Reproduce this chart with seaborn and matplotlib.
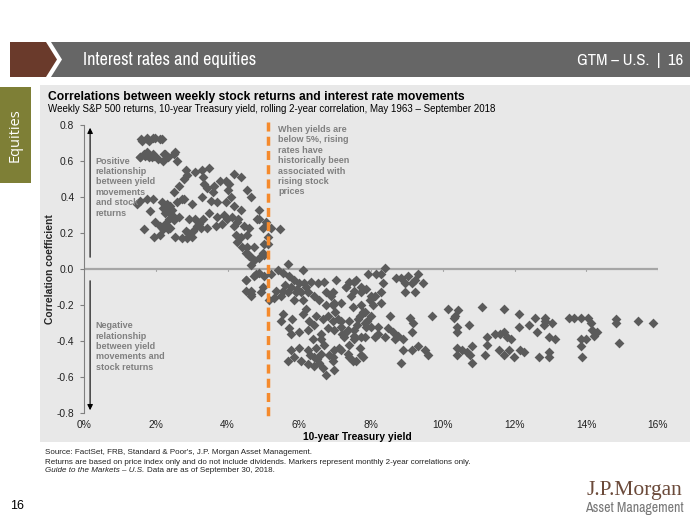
import matplotlib
matplotlib.use("Agg")
import matplotlib.pyplot as plt
from matplotlib.patches import Polygon, Rectangle
from matplotlib import font_manager
import seaborn as sns
import pandas as pd

sns.set_theme(style="white")
plt.rcParams['font.family'] = ['Liberation Sans', 'DejaVu Sans']

# ---- data: (10-year Treasury yield %, rolling 2-year correlation) ----
yield_pct = [
    1.6, 1.75, 1.93, 2.13, 1.62, 1.75, 1.99, 2.17, 1.57, 1.71, 1.9, 1.93, 2.22, 2.2, 2.35, 2.55, 2.6,
    1.57, 1.75, 1.94, 2.27, 2.5, 2.83, 2.87, 3.1, 3.3, 3.48, 2.78, 3.33,
    2.64, 2.5, 2.73, 3.0, 3.34, 3.44, 3.62, 3.8, 3.95, 4.18, 4.37, 4.04, 3.3, 3.53, 3.72, 3.95, 4.1,
    4.18, 4.37, 4.55, 4.65, 4.88,
    1.47, 1.57, 1.75, 1.93, 1.85, 2.17, 2.2, 2.31, 2.45, 2.6, 2.78, 2.64, 2.5, 2.36, 2.92, 3.1, 3.33,
    3.48, 3.15, 3.25, 3.43, 3.67, 3.85, 3.99, 4.13, 4.27, 4.46, 4.6, 4.83,
    1.66, 1.99, 2.13, 2.27, 2.4, 2.2, 1.94, 2.13, 2.55, 2.73, 2.87, 3.0, 2.83, 3.05,
    4.18, 4.23, 4.37, 4.55, 4.27, 4.41, 4.51, 4.6, 4.74, 4.88, 4.98, 5.12, 5.12, 5.2, 5.45, 4.98,
    4.88, 5.07, 5.02, 4.74, 4.55,
    4.6, 4.74, 4.65, 5.01, 4.51, 4.79, 4.88, 5.02, 5.21, 5.4, 5.54, 5.68, 5.72, 5.86, 6.1, 6.0,
    6.14, 6.33, 6.52, 6.7, 4.51, 4.65, 4.98, 4.93, 5.16, 5.3, 5.49, 5.35, 5.54, 5.68, 5.77, 5.91,
    6.05, 6.24, 5.86, 6.1, 6.42, 6.56, 6.75, 6.89, 6.75, 6.94, 7.17, 7.31, 7.4, 7.59, 7.54, 7.73, 7.92,
    5.54, 5.49, 5.72, 5.77, 6.0, 6.1, 6.28, 6.47, 6.66, 6.8, 6.94, 6.24, 6.38, 6.61, 6.8, 6.98,
    7.08, 7.17, 7.36, 7.54, 7.26, 7.54, 7.73, 7.87, 7.68, 7.78,
    5.77, 6.0, 5.68, 5.86, 6.05, 6.24, 6.42, 6.56, 6.66, 6.75, 6.42, 6.84, 6.94, 6.61, 7.17, 7.4,
    7.59, 7.73, 6.24, 6.47,
    8.38, 8.15, 8.29, 8.71, 8.85, 9.04, 9.22, 9.32, 9.46, 8.94, 8.94, 9.22, 9.13, 7.03, 7.31, 7.54,
    7.73, 7.87, 8.34, 8.29, 8.1, 7.45, 6.94, 6.98, 7.5, 7.73, 7.96, 8.05, 8.29, 7.82, 8.01, 8.52,
    9.08, 9.18, 9.13, 9.69, 7.17, 7.4, 7.64, 7.82, 8.01, 8.2, 8.48, 8.62, 8.76, 8.9, 7.26, 7.54,
    7.82, 8.1, 8.38, 8.66, 8.9, 9.13, 9.32, 9.5, 9.6, 8.85, 6.98, 7.12, 7.36, 7.5, 7.78, 6.98, 6.94,
    10.15, 10.35, 10.43, 10.3, 10.4, 10.4, 10.72, 11.09, 11.23, 11.23, 11.46, 11.6, 11.7, 11.79,
    11.91, 11.7, 12.12, 12.12, 12.4, 12.58, 12.63, 12.84, 12.84, 12.82, 13.05, 12.96, 13.12,
    10.4, 10.4, 10.53, 10.67, 10.76, 10.81, 10.81, 11.18, 11.56, 11.7, 11.84, 11.98, 12.16, 12.26,
    12.68, 12.96, 12.96, 13.52, 13.66, 13.84, 14.04, 14.12, 14.17, 14.31, 14.22, 13.98, 13.84,
    13.84, 13.89, 14.82, 14.82, 15.43, 15.85, 14.92,
    4.74, 4.51, 4.65, 4.65, 5.8, 6.2,
    1.68, 1.82, 2.05, 1.8, 2.3, 2.4, 2.25, 2.45, 2.35, 2.9, 3.2, 3.6, 3.7, 3.9, 4.0, 4.3,
    5.6, 5.95, 6.2, 6.4, 6.6, 7.0, 7.2, 7.6, 7.9, 8.2, 8.0, 7.7, 7.4, 6.3, 6.5, 6.7,
]
correlation = [
    0.72, 0.73, 0.73, 0.72, 0.71, 0.72, 0.73, 0.72, 0.62, 0.63, 0.62, 0.64, 0.64, 0.6, 0.62, 0.65, 0.6,
    0.62, 0.65, 0.63, 0.64, 0.64, 0.55, 0.52, 0.54, 0.55, 0.56, 0.5, 0.51,
    0.46, 0.43, 0.39, 0.36, 0.47, 0.45, 0.46, 0.49, 0.49, 0.53, 0.51, 0.47, 0.40, 0.38, 0.37, 0.37, 0.40,
    0.35, 0.33, 0.44, 0.40, 0.33,
    0.36, 0.38, 0.39, 0.39, 0.32, 0.37, 0.34, 0.36, 0.33, 0.37, 0.39, 0.29, 0.27, 0.28, 0.28, 0.28, 0.28,
    0.31, 0.24, 0.23, 0.23, 0.24, 0.25, 0.28, 0.29, 0.26, 0.24, 0.23, 0.28,
    0.22, 0.26, 0.24, 0.25, 0.23, 0.22, 0.18, 0.19, 0.18, 0.17, 0.17, 0.18, 0.21, 0.21,
    0.24, 0.19, 0.18, 0.19, 0.15, 0.12, 0.09, 0.07, 0.05, 0.06, 0.09, 0.14, 0.18, 0.23, 0.22, 0.23,
    0.28, 0.26, 0.14, 0.12, 0.12,
    0.08, 0.05, 0.02, 0.08, -0.06, -0.03, -0.02, -0.04, -0.03, -0.005, -0.02, 0.03, -0.04, -0.06, -0.005, -0.08,
    -0.08, -0.07, -0.08, -0.07, -0.12, -0.14, -0.1, -0.13, -0.17, -0.16, -0.15, -0.12, -0.12, -0.13, -0.1, -0.13,
    -0.13, -0.13, -0.17, -0.17, -0.15, -0.17, -0.13, -0.15, -0.2, -0.2, -0.19, -0.1, -0.07, -0.06, -0.12, -0.13, -0.03,
    -0.25, -0.29, -0.33, -0.36, -0.35, -0.25, -0.29, -0.26, -0.28, -0.26, -0.29, -0.34, -0.39, -0.39, -0.33, -0.34,
    -0.28, -0.32, -0.34, -0.34, -0.38, -0.39, -0.38, -0.32, -0.26, -0.24,
    -0.45, -0.44, -0.51, -0.49, -0.51, -0.53, -0.54, -0.52, -0.55, -0.59, -0.49, -0.48, -0.49, -0.47, -0.45, -0.49,
    -0.51, -0.48, -0.45, -0.44,
    0.005, -0.03, -0.03, -0.05, -0.05, -0.04, -0.06, -0.03, -0.08, -0.08, -0.13, -0.13, -0.08, -0.06, -0.1, -0.07,
    -0.1, -0.11, -0.08, -0.13, -0.15, -0.15, -0.13, -0.19, -0.21, -0.2, -0.17, -0.2, -0.19, -0.24, -0.26, -0.26,
    -0.27, -0.3, -0.35, -0.26, -0.29, -0.29, -0.28, -0.3, -0.32, -0.32, -0.33, -0.35, -0.37, -0.39, -0.36, -0.37,
    -0.38, -0.38, -0.38, -0.39, -0.45, -0.45, -0.43, -0.45, -0.48, -0.52, -0.45, -0.44, -0.47, -0.51, -0.49, -0.56, -0.51,
    -0.22, -0.26, -0.23, -0.27, -0.32, -0.35, -0.31, -0.21, -0.38, -0.42, -0.36, -0.36, -0.35, -0.38,
    -0.39, -0.22, -0.25, -0.32, -0.31, -0.27, -0.35, -0.27, -0.29, -0.31, -0.3, -0.38, -0.39,
    -0.44, -0.48, -0.45, -0.46, -0.48, -0.43, -0.52, -0.48, -0.45, -0.48, -0.45, -0.49, -0.45, -0.46,
    -0.49, -0.49, -0.46, -0.27, -0.27, -0.27, -0.27, -0.3, -0.34, -0.35, -0.37, -0.39, -0.39,
    -0.43, -0.49, -0.28, -0.3, -0.29, -0.3, -0.41,
    -0.04, -0.06, -0.12, -0.15, -0.28, -0.22,
    0.64, 0.62, 0.61, 0.71, 0.33, 0.35, 0.31, 0.30, 0.22, 0.20, 0.25, 0.43, 0.29, 0.30, 0.44, 0.28,
    -0.09, -0.11, -0.10, -0.31, -0.36, -0.24, -0.36, -0.31, -0.29, -0.36, -0.15, -0.44, -0.42, -0.48, -0.50, -0.42,
]

x_ticks = [0, 2, 4, 6, 8, 10, 12, 14, 16]
x_tick_labels = ["0%", "2%", "4%", "6%", "8%", "10%", "12%", "14%", "16%"]
y_ticks = [0.8, 0.6, 0.4, 0.2, 0.0, -0.2, -0.4, -0.6, -0.8]
y_tick_labels = ["0.8", "0.6", "0.4", "0.2", "0.0", "-0.2", "-0.4", "-0.6", "-0.8"]
threshold_yield = 5.13

df = pd.DataFrame({"yield": yield_pct, "corr": correlation})

# pick a narrow font for the header if one is installed
narrow_family, narrow_stretch, narrow_ok = "Liberation Sans", "normal", False
for f in font_manager.fontManager.ttflist:
    nm = f.name
    st = str(f.stretch)
    if ("Narrow" in nm or "Condensed" in nm) and f.weight in (400, "normal", "regular"):
        narrow_family, narrow_stretch, narrow_ok = nm, st, True
        break
if not narrow_ok:
    for f in font_manager.fontManager.ttflist:
        if str(f.stretch) in ("condensed", "semi-condensed") and f.style == "normal":
            narrow_family, narrow_stretch, narrow_ok = f.name, str(f.stretch), True
            break
head_size = 13 if narrow_ok else 11
head_size2 = 12 if narrow_ok else 10.5

W, H = 700, 525
fig = plt.figure(figsize=(W / 100, H / 100), dpi=100)
fig.patch.set_facecolor("white")

bg = fig.add_axes([0, 0, 1, 1], zorder=0)
bg.set_xlim(0, W)
bg.set_ylim(H, 0)
bg.axis("off")

# header
bg.add_patch(Polygon([(10, 42), (46, 42), (57, 59.5), (46, 77), (10, 77)], closed=True,
                     facecolor="#6a3a2b", edgecolor="none"))
bg.add_patch(Polygon([(51, 42), (690, 42), (690, 77), (51, 77), (62, 59.5)], closed=True,
                     facecolor="#666666", edgecolor="none"))
bg.text(83, 60, "Interest rates and equities", color="white", fontsize=head_size,
        family=[narrow_family, "DejaVu Sans"], fontstretch=narrow_stretch, va="center", ha="left")
bg.text(683, 60, "GTM – U.S.  |  16", color="white", fontsize=head_size2,
        family=[narrow_family, "DejaVu Sans"], fontstretch=narrow_stretch, va="center", ha="right")

# side tab
bg.add_patch(Rectangle((0, 87), 31, 96, facecolor="#7e7f36", edgecolor="none"))
bg.text(15, 135, "Equities", color="white", fontsize=10.5, rotation=90,
        family=["Open Sans", "DejaVu Sans"], va="center", ha="center")

# chart panel
bg.add_patch(Rectangle((40, 85), 650, 357, facecolor="#e8e8e8", edgecolor="none"))
bg.text(48, 97, "Correlations between weekly stock returns and interest rate movements",
        fontsize=8.7, fontweight="bold", color="black", va="center", ha="left")
bg.text(48, 109, "Weekly S&P 500 returns, 10-year Treasury yield, rolling 2-year correlation, May 1963 – September 2018",
        fontsize=7.0, color="black", va="center", ha="left")

# footer
fs_foot = 5.8
bg.text(45, 453, "Source: FactSet, FRB, Standard & Poor's, J.P. Morgan Asset Management.",
        fontsize=fs_foot, color="#222222", va="center", ha="left")
bg.text(45, 462, "Returns are based on price index only and do not include dividends. Markers represent monthly 2-year correlations only.",
        fontsize=fs_foot, color="#222222", va="center", ha="left")
guide = bg.text(45, 471, "Guide to the Markets – U.S.", fontsize=fs_foot, color="#222222",
                va="center", ha="left", style="italic")
fig.canvas.draw()
bb = guide.get_window_extent(renderer=fig.canvas.get_renderer())
gx = bb.x1 + 3
bg.text(gx, 471, "Data are as of September 30, 2018.", fontsize=fs_foot, color="#222222",
        va="center", ha="left")
bg.text(10, 506, "16", fontsize=9, color="black", va="center", ha="left")

# logo
bg.text(634, 490, "J.P.Morgan", fontsize=15.5, color="#6b4a3a", family=["Liberation Serif", "DejaVu Serif"],
        va="center", ha="center")
bg.text(634, 508, "Asset Management", fontsize=8 if not narrow_ok else 10, color="#777777",
        family=[narrow_family, "DejaVu Sans"], fontstretch=narrow_stretch, va="center", ha="center")

# main axes
x0, x1 = 84, 658
y0, y1 = 125, 413
ax = fig.add_axes([x0 / W, 1 - y1 / H, (x1 - x0) / W, (y1 - y0) / H], zorder=1)
ax.set_facecolor("none")

sns.scatterplot(data=df, x="yield", y="corr", ax=ax, marker="D", s=25, color="#5b5b5b",
                edgecolor="#5b5b5b", linewidth=0, zorder=3, legend=False)

ax.set_xlim(0, 16)
ax.set_ylim(-0.8, 0.8)
ax.axhline(0, color="#a6a6a6", linewidth=1.6, zorder=2)
ax.plot([threshold_yield, threshold_yield], [0.815, -0.815], color="#f58a2c", lw=2.5,
        dashes=(2.6, 1.5), zorder=4, clip_on=False)

for s in ["top", "right", "bottom"]:
    ax.spines[s].set_visible(False)
ax.spines["left"].set_color("#7f7f7f")
ax.spines["left"].set_linewidth(0.8)

ax.set_yticks(y_ticks)
ax.set_yticklabels(y_tick_labels)
ax.set_xticks(x_ticks)
ax.set_xticklabels(x_tick_labels)
ax.tick_params(axis="y", left=True, length=3, width=0.8, color="#7f7f7f", labelsize=7.4,
               labelcolor="#222222", pad=4)
ax.tick_params(axis="x", bottom=False, length=0, labelsize=7.4, labelcolor="#222222", pad=5)
for xt in x_ticks[1:]:
    ax.plot([xt, xt], [0, -0.012], color="#a6a6a6", lw=0.8, zorder=2)

ax.set_xlabel("")
ax.set_ylabel("Correlation coefficient", fontsize=7.4, fontweight="bold", labelpad=1)
bg.text(357, 437, "10-year Treasury yield", fontsize=7.4, fontweight="bold", color="black",
        va="center", ha="center")

# arrows
ax.annotate("", xy=(0.17, 0.8), xytext=(0.17, 0.05),
            arrowprops=dict(arrowstyle="-|>", color="black", lw=0.8, mutation_scale=8))
ax.annotate("", xy=(0.17, -0.8), xytext=(0.17, -0.05),
            arrowprops=dict(arrowstyle="-|>", color="black", lw=0.8, mutation_scale=8))

ann_color = "#808080"
fs_ann = 6.5
ax.text(0.33, 0.625, "Positive\nrelationship\nbetween yield\nmovements\nand stock\nreturns",
        fontsize=fs_ann, color=ann_color, fontweight="bold", va="top", ha="left", linespacing=1.2)
ax.text(0.33, -0.29, "Negative\nrelationship\nbetween yield\nmovements and\nstock returns",
        fontsize=fs_ann, color=ann_color, fontweight="bold", va="top", ha="left", linespacing=1.2)
ax.text(5.42, 0.8, "When yields are\nbelow 5%, rising\nrates have\nhistorically been\nassociated with\nrising stock\nprices",
        fontsize=fs_ann, color=ann_color, fontweight="bold", va="top", ha="left", linespacing=1.2)

fig.savefig("out.png", dpi=100, facecolor="white")
